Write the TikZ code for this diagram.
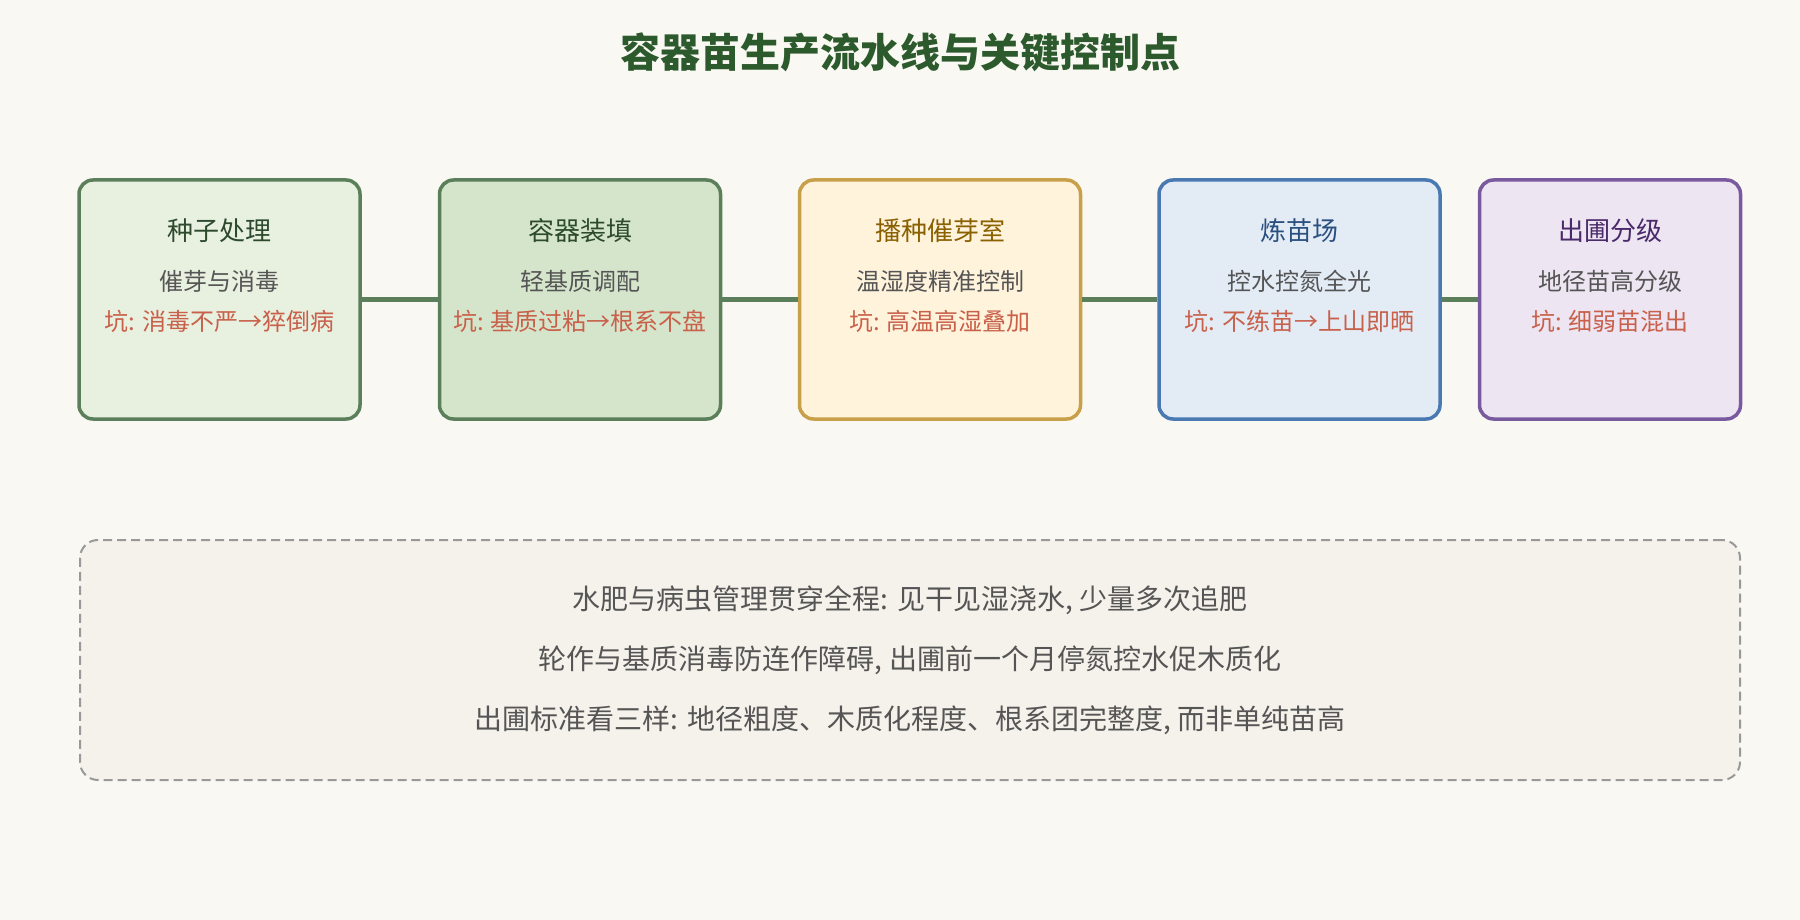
\documentclass[tikz,border=0pt]{standalone}
\usepackage{fontspec}
\setmainfont{Noto Sans CJK SC}
\usetikzlibrary{positioning}
\definecolor{bg}{HTML}{F9F8F3}
\definecolor{titlec}{HTML}{2D5A2D}
\definecolor{greenb}{HTML}{5A7F5A}
\definecolor{fillA}{HTML}{E8F0E0}
\definecolor{fillB}{HTML}{D5E5CB}
\definecolor{fillC}{HTML}{FFF3DC}
\definecolor{bordC}{HTML}{C9A04A}
\definecolor{textC}{HTML}{8A6000}
\definecolor{fillD}{HTML}{E3EBF5}
\definecolor{bordD}{HTML}{4A78B0}
\definecolor{textD}{HTML}{2A5080}
\definecolor{fillE}{HTML}{EDE5F2}
\definecolor{bordE}{HTML}{7A5A9E}
\definecolor{textE}{HTML}{4A2A6A}
\definecolor{textA}{HTML}{2D4A2D}
\definecolor{subc}{HTML}{555555}
\definecolor{pitc}{HTML}{C8604A}
\definecolor{notefill}{HTML}{F4F2EA}
\definecolor{notebord}{HTML}{999999}
\tikzset{
  stagebox/.style={draw, line width=3.5pt, rounded corners=14pt, minimum height=239pt, inner sep=0pt},
  stitle/.style={font=\fontsize{26}{30}\selectfont, inner sep=0pt},
  ssub/.style={font=\fontsize{24}{28}\selectfont, text=subc, inner sep=0pt},
  spit/.style={font=\fontsize{24}{28}\selectfont, text=pitc, inner sep=0pt},
  conn/.style={draw=greenb, line width=5pt},
  notebox/.style={draw=notebord, fill=notefill, dashed, dash pattern=on 9pt off 5pt, line width=2pt, rounded corners=18pt, minimum width=1660pt, minimum height=240pt, inner sep=0pt},
  notetext/.style={font=\fontsize{28}{32}\selectfont, text=subc, inner sep=0pt},
}
\begin{document}
\begin{tikzpicture}[x=1pt,y=-1pt]
\fill[bg] (0,0) rectangle (1800,920);
\useasboundingbox (0,0) rectangle (1800,920);
\node[font=\bfseries\fontsize{40}{46}\selectfont, text=titlec, inner sep=0pt] (title) at (900,52) {容器苗生产流水线与关键控制点};

\node[stagebox, draw=greenb, fill=fillA, minimum width=281pt] (b1) at (219.5,299.5) {};
\node[stagebox, draw=greenb, fill=fillB, minimum width=281pt] (b2) at (580,299.5) {};
\node[stagebox, draw=bordC, fill=fillC, minimum width=281pt] (b3) at (940,299.5) {};
\node[stagebox, draw=bordD, fill=fillD, minimum width=281pt] (b4) at (1299.5,299.5) {};
\node[stagebox, draw=bordE, fill=fillE, minimum width=261pt] (b5) at (1610,299.5) {};

\draw[conn] (b1.east) -- (b2.west);
\draw[conn] (b2.east) -- (b3.west);
\draw[conn] (b3.east) -- (b4.west);
\draw[conn] (b4.east) -- (b5.west);

\node[stitle, text=textA] (t1) at ([yshift=68.5pt]b1.center) {种子处理};
\node[ssub] (s1) at ([yshift=18.5pt]b1.center) {催芽与消毒};
\node[spit] (p1) at ([yshift=-21.5pt]b1.center) {坑: 消毒不严→猝倒病};

\node[stitle, text=textA] (t2) at ([yshift=68.5pt]b2.center) {容器装填};
\node[ssub] (s2) at ([yshift=18.5pt]b2.center) {轻基质调配};
\node[spit] (p2) at ([yshift=-21.5pt]b2.center) {坑: 基质过粘→根系不盘};

\node[stitle, text=textC] (t3) at ([yshift=68.5pt]b3.center) {播种催芽室};
\node[ssub] (s3) at ([yshift=18.5pt]b3.center) {温湿度精准控制};
\node[spit] (p3) at ([yshift=-21.5pt]b3.center) {坑: 高温高湿叠加};

\node[stitle, text=textD] (t4) at ([yshift=68.5pt]b4.center) {炼苗场};
\node[ssub] (s4) at ([yshift=18.5pt]b4.center) {控水控氮全光};
\node[spit] (p4) at ([yshift=-21.5pt]b4.center) {坑: 不练苗→上山即晒};

\node[stitle, text=textE] (t5) at ([yshift=68.5pt]b5.center) {出圃分级};
\node[ssub] (s5) at ([yshift=18.5pt]b5.center) {地径苗高分级};
\node[spit] (p5) at ([yshift=-21.5pt]b5.center) {坑: 细弱苗混出};

\node[notebox] (note) at (910,660) {};
\node[notetext] (n1) at (910,600) {水肥与病虫管理贯穿全程: 见干见湿浇水, 少量多次追肥};
\node[notetext] (n2) at (910,660) {轮作与基质消毒防连作障碍, 出圃前一个月停氮控水促木质化};
\node[notetext] (n3) at (910,720) {出圃标准看三样: 地径粗度、木质化程度、根系团完整度, 而非单纯苗高};
\end{tikzpicture}
\end{document}
